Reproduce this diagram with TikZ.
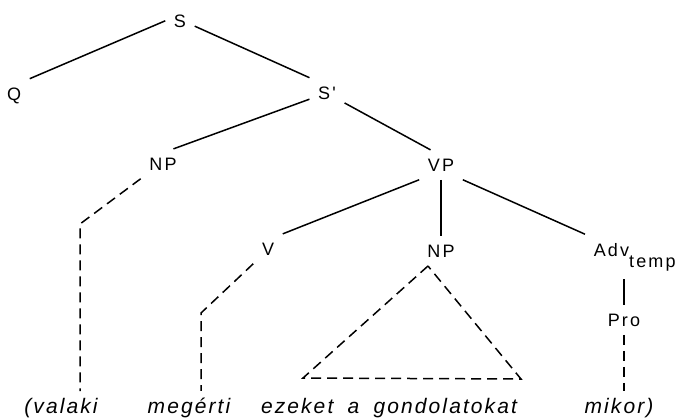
\documentclass[tikz,border=0pt]{standalone}
\usepackage{fontspec}
\setmainfont{Liberation Sans}
\newfontfamily\catfont[LetterSpace=12]{Liberation Sans}
\newfontfamily\wordfont[LetterSpace=10,WordSpace=1.8]{Liberation Sans}
\usetikzlibrary{positioning}

\begin{document}
\begin{tikzpicture}[x=0.5pt,y=-0.5pt,line width=0.75pt,
	cat/.style={inner sep=4pt, anchor=base, font=\catfont\fontsize{9}{10}\selectfont},
	word/.style={inner sep=3pt, anchor=base, font=\wordfont\itshape\fontsize{10.5}{12}\selectfont},
	dsh/.style={dash pattern=on 5pt off 3pt}]
						\useasboundingbox (0,0) rectangle (675,419);

						\node[cat] (S) at (180,27) {S};
						\node[cat] (Q) at (14,100) {Q};
						\node[cat] (S1) at (327,99) {S'};

						\node[cat] (NP) at (163,170) {NP};
						\node[cat] (VP) at (441,171) {VP};

						\node[cat] (V) at (268,255) {V};
						\node[cat] (NP2) at (441,257) {NP};
						\node[cat, anchor=base west] (adv) at (585,256) {Adv\raisebox{-5.5pt}{temp}};
						\node[cat] (pro) at (624,326) {Pro};

						% the words
						\node[word] (valaki) at (61,413) {(valaki};
						\node[word] (megerti) at (189,413) {megérti};
						\node[word] (ezeket) at (389,413) {ezeket a gondolatokat};
						\node[word] (mikor) at (619,413) {mikor)};

						\coordinate (npbend) at (80,224);
						\coordinate (vbend) at (201,313);
						\coordinate (tritop) at (428,266);
						\coordinate (trileft) at (303,378);
						\coordinate (triright) at (521,379);

						\draw[] (S.west) to (Q.north east);
						\draw[] (S.-20) to (S1.north west);
						\draw[] (S1.200) to (NP.55);
						\draw[] (S1.-30) to (VP.125);

						\draw[] (VP.south west) to (V.north east);
						\draw[] (VP.south) to (NP2.north);
						\draw[] (VP.south east) to (adv.north west);
						\draw[] (adv.south -| pro.north) to (pro.north);

						\draw[dsh] (NP.south west) -- (npbend) -- (npbend |- valaki.north);
						\draw[dsh] (V.south west) -- (vbend) -- (vbend |- megerti.north);
						\draw[dsh] (tritop) -- (trileft) -- (triright) -- cycle;
						\draw[dsh] (pro.south) to (pro.south |- mikor.north);

					\end{tikzpicture}
\end{document}
